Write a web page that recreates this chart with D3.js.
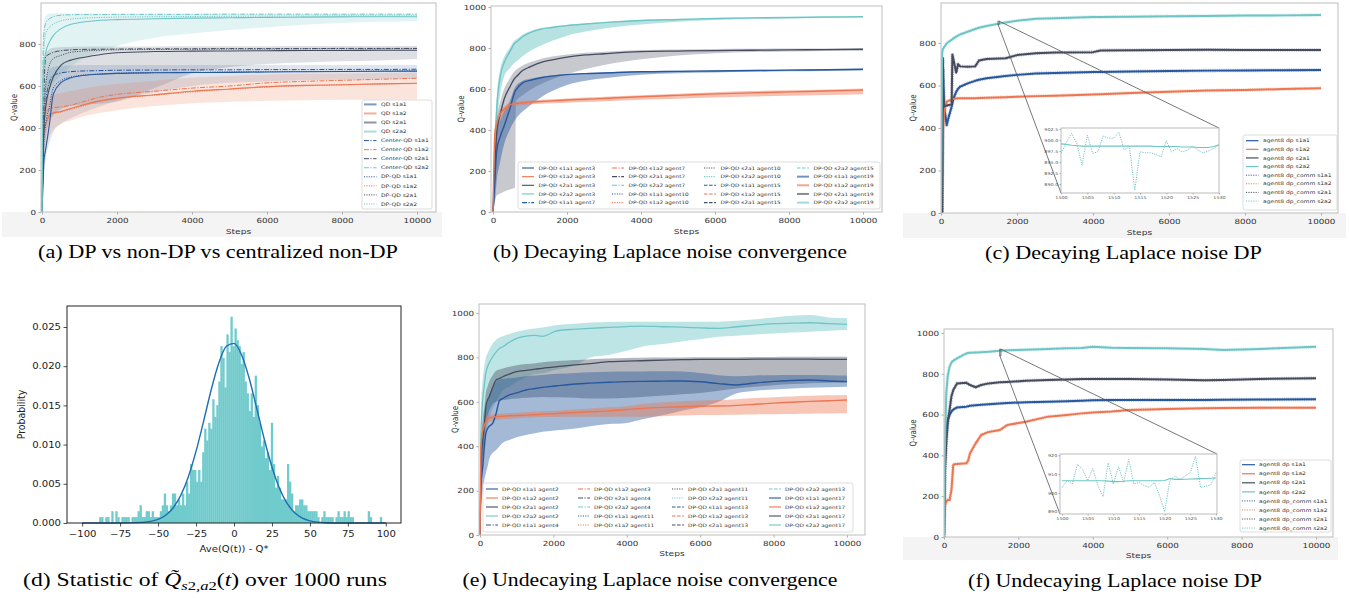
<!DOCTYPE html>
<html>
<head>
<meta charset="utf-8">
<script src="https://cdn.jsdelivr.net/npm/d3@7"></script>
<style>
  body { margin: 0; background: #fff; }
  svg { display: block; }
  .cap { font-family: "Liberation Serif", "Times New Roman", serif; font-size: 18.5px; fill: #000; }
</style>
</head>
<body>
<svg id="fig" width="1349" height="598"></svg>
<script>
// ---------------- data ----------------

// (a) DP vs non-DP vs centralized non-DP
const stepsA = [0, 25, 50, 100, 200, 300, 500, 750, 1000, 1500, 2000, 3000, 4000, 5000, 6000, 7000, 8000, 9000, 10000];
const qdA_s1a1 = [0, 120, 240, 300, 420, 560, 615, 638, 648, 656, 660, 663, 664, 665, 667, 668, 669, 670, 671];
const centerA_s1a1 = [0, 200, 380, 520, 620, 650, 662, 668, 671, 673, 675, 676, 677, 677, 678, 678, 679, 679, 680];
const dpA_s1a1 = [0, 160, 320, 420, 500, 590, 625, 642, 650, 657, 661, 664, 665, 667, 668, 669, 670, 671, 672];
const loA_s1a1 = [0, 60, 150, 250, 330, 380, 420, 445, 465, 500, 530, 570, 600, 615, 622, 627, 630, 632, 635];
const hiA_s1a1 = [0, 400, 560, 630, 680, 690, 695, 698, 700, 700, 700, 700, 700, 700, 700, 700, 700, 700, 700];
const qdA_s1a2 = [0, 300, 380, 420, 462, 472, 478, 492, 505, 528, 542, 558, 575, 586, 597, 603, 606, 610, 613];
const centerA_s1a2 = [0, 330, 420, 470, 493, 497, 500, 508, 520, 545, 560, 575, 590, 600, 615, 622, 627, 632, 637];
const dpA_s1a2 = [0, 280, 360, 410, 455, 468, 475, 488, 500, 525, 540, 556, 572, 584, 595, 601, 605, 609, 612];
const loA_s1a2 = [0, 120, 200, 290, 360, 390, 420, 435, 450, 470, 485, 505, 518, 525, 530, 532, 534, 535, 536];
const hiA_s1a2 = [0, 450, 520, 545, 555, 560, 565, 575, 585, 600, 610, 625, 640, 648, 655, 658, 660, 662, 664];
const qdA_s2a1 = [0, 250, 400, 500, 590, 643, 698, 722, 733, 748, 758, 764, 766, 767, 768, 769, 769, 770, 770];
const centerA_s2a1 = [0, 300, 550, 740, 752, 760, 768, 772, 774, 775, 776, 777, 777, 778, 778, 778, 779, 779, 779];
const dpA_s2a1 = [0, 260, 450, 600, 700, 730, 745, 760, 765, 770, 772, 774, 775, 776, 776, 777, 777, 777, 778];
const loA_s2a1 = [0, 150, 250, 350, 430, 460, 490, 505, 510, 515, 525, 590, 660, 690, 705, 712, 718, 722, 728];
const hiA_s2a1 = [0, 500, 650, 750, 775, 782, 785, 786, 787, 788, 788, 788, 789, 789, 789, 790, 790, 790, 790];
const qdA_s2a2 = [0, 600, 700, 760, 810, 840, 872, 893, 902, 912, 916, 920, 923, 925, 927, 928, 929, 930, 930];
const centerA_s2a2 = [0, 720, 850, 900, 920, 930, 937, 939, 940, 940, 941, 941, 941, 942, 942, 942, 942, 942, 942];
const dpA_s2a2 = [0, 650, 780, 850, 880, 895, 910, 918, 922, 926, 928, 930, 931, 932, 933, 933, 934, 934, 934];
const loA_s2a2 = [0, 300, 450, 530, 580, 610, 650, 690, 720, 760, 790, 830, 850, 867, 880, 892, 900, 906, 910];
const hiA_s2a2 = [0, 800, 900, 935, 945, 946, 946, 945, 945, 944, 944, 944, 944, 944, 944, 944, 944, 944, 944];
const legendA = ["QD s1a1", "QD s1a2", "QD s2a1", "QD s2a2",
  "Center-QD s1a1", "Center-QD s1a2", "Center-QD s2a1", "Center-QD s2a2",
  "DP-QD s1a1", "DP-QD s1a2", "DP-QD s2a1", "DP-QD s2a2"];

// (b) decaying Laplace noise convergence
const stepsB = [0, 50, 100, 200, 300, 450, 600, 620, 800, 1000, 1300, 1600, 2000, 2500, 3000, 4000, 5000, 6000, 7000, 8000, 9000, 10000];
const meanB_s1a1 = [0, 150, 300, 370, 420, 500, 590, 596, 630, 642, 655, 663, 670, 675, 678, 684, 686, 688, 690, 692, 694, 696];
const loB_s1a1 = [0, 50, 150, 250, 330, 400, 450, 455, 490, 520, 560, 590, 620, 640, 652, 670, 677, 681, 684, 686, 688, 690];
const hiB_s1a1 = [0, 250, 400, 450, 490, 540, 610, 615, 640, 650, 660, 667, 673, 678, 681, 687, 689, 691, 693, 695, 697, 699];
const meanB_s1a2 = [0, 384, 433, 480, 500, 522, 530, 530, 533, 536, 539, 542, 546, 550, 554, 562, 569, 576, 581, 586, 590, 595];
const loB_s1a2 = [0, 300, 390, 450, 480, 505, 518, 518, 522, 525, 528, 530, 533, 536, 540, 547, 553, 558, 563, 567, 571, 575];
const hiB_s1a2 = [0, 420, 460, 500, 515, 532, 538, 538, 541, 544, 547, 550, 554, 558, 562, 570, 577, 584, 590, 594, 598, 602];
const meanB_s2a1 = [0, 200, 385, 480, 550, 608, 655, 658, 690, 708, 730, 742, 755, 766, 772, 782, 785, 787, 789, 791, 792, 794];
const loB_s2a1 = [0, 50, 80, 90, 100, 110, 120, 540, 570, 595, 625, 648, 672, 697, 717, 745, 764, 775, 780, 783, 785, 787];
const hiB_s2a1 = [0, 300, 450, 540, 600, 650, 690, 693, 715, 730, 748, 758, 768, 777, 782, 790, 793, 795, 796, 797, 798, 799];
const meanB_s2a2 = [0, 300, 500, 665, 728, 780, 825, 827, 855, 875, 892, 900, 909, 917, 924, 934, 939, 944, 947, 949, 951, 953];
const loB_s2a2 = [0, 200, 400, 580, 660, 700, 730, 733, 760, 785, 812, 835, 860, 880, 895, 915, 928, 936, 941, 944, 946, 948];
const hiB_s2a2 = [0, 380, 560, 700, 755, 800, 840, 842, 865, 882, 897, 905, 913, 920, 927, 936, 941, 946, 949, 951, 953, 955];
const legendB = [
  "DP-QD s1a1 agent3", "DP-QD s1a2 agent3", "DP-QD s2a1 agent3", "DP-QD s2a2 agent3", "DP-QD s1a1 agent7",
  "DP-QD s1a2 agent7", "DP-QD s2a1 agent7", "DP-QD s2a2 agent7", "DP-QD s1a1 agent10", "DP-QD s1a2 agent10",
  "DP-QD s2a1 agent10", "DP-QD s2a2 agent10", "DP-QD s1a1 agent15", "DP-QD s1a2 agent15", "DP-QD s2a1 agent15",
  "DP-QD s2a2 agent15", "DP-QD s1a1 agent19", "DP-QD s1a2 agent19", "DP-QD s2a1 agent19", "DP-QD s2a2 agent19"];

// (c) decaying Laplace noise DP, agent8
const stepsC = [0, 30, 50, 60, 80, 100, 150, 200, 280, 300, 330, 400, 450, 500, 700, 900, 1000, 1200, 1700, 2000, 2500, 3000, 4000, 4200, 5000, 6000, 7000, 8000, 9000, 10000];
const dpC_s1a1 = [0, 0, 680, 600, 500, 480, 414, 450, 500, 517, 540, 570, 585, 594, 610, 622, 627, 634, 645, 650, 657, 659, 663, 664, 666, 668, 670, 671, 672, 673];
const dpC_s1a2 = [0, 250, 380, 420, 460, 490, 524, 528, 533, 535, 537, 539, 540, 540, 540, 540, 541, 542, 545, 547, 550, 552, 558, 559, 565, 571, 576, 579, 583, 587];
const dpC_s2a1 = [0, 0, 730, 600, 500, 505, 505, 508, 510, 745, 720, 660, 700, 690, 688, 690, 718, 725, 728, 743, 752, 755, 757, 765, 766, 767, 768, 767, 767, 767];
const dpC_s2a2 = [0, 760, 770, 775, 780, 785, 798, 805, 815, 818, 822, 830, 835, 840, 853, 866, 872, 880, 897, 905, 914, 917, 922, 922, 924, 926, 927, 929, 930, 932];
const insetSteps = [1500, 1501, 1502, 1503, 1504, 1505, 1506, 1507, 1508, 1509, 1510, 1511, 1512, 1513, 1514, 1515,
  1516, 1517, 1518, 1519, 1520, 1521, 1522, 1523, 1524, 1525, 1526, 1527, 1528, 1529, 1530];
const insetC_dp = [899.1, 899.0, 898.8, 898.7, 898.6, 898.6, 898.6, 898.6, 898.6, 898.6, 898.6, 898.6, 898.6, 898.6, 898.6, 898.6,
  898.6, 898.6, 898.5, 898.5, 898.5, 898.5, 898.5, 898.4, 898.4, 898.4, 898.3, 898.3, 898.3, 898.5, 898.9];
const insetC_comm = [897.0, 899.4, 901.5, 899.2, 894.3, 901.1, 897.0, 897.3, 900.9, 900.4, 900.4, 901.7, 897.7, 898.5, 888.6, 897.3,
  897.1, 897.1, 896.7, 896.2, 899.8, 897.3, 898.1, 897.3, 897.7, 898.6, 897.7, 897.1, 897.5, 898.1, 898.9];
const insetC_yTicks = [890, 892.5, 895, 897.5, 900, 902.5];
const legendDP = ["agent8 dp s1a1", "agent8 dp s1a2", "agent8 dp s2a1", "agent8 dp s2a2",
  "agent8 dp_comm s1a1", "agent8 dp_comm s1a2", "agent8 dp_comm s2a1", "agent8 dp_comm s2a2"];

// (d) histogram of Ave(Q(t)) - Q* over 1000 runs
const histRuns = 1000;
const histStart = -88.8;
const histWidth = 1.33;
const histCounts = [
  1, 1, 0, 1, 1, 0, 2, 0, 2, 1,   0, 1, 1, 1, 1, 0, 1, 1, 1, 2,
  3, 1, 1, 2, 2, 1, 2, 1, 1, 1,   2, 3, 5, 3, 2, 3, 5, 5, 3, 4,
  3, 5, 3, 7, 5, 10, 9, 9, 7, 9,  7, 12, 16, 14, 17, 16, 21, 18, 20, 24,
  30, 28, 23, 32, 29, 35, 30, 33, 31, 30,  27, 29, 24, 22, 19, 22, 18, 25, 20, 17,
  13, 14, 11, 12, 9, 17, 10, 6, 8, 6,  4, 4, 4, 10, 7, 5, 2, 3, 3, 4,
  4, 3, 3, 2, 2, 2, 2, 2, 1, 0,   1, 2, 1, 1, 1, 1, 0, 1, 2, 1,
  1, 2, 1, 2, 1, 1, 0, 0, 0, 0,   0, 0, 0, 2, 1, 0, 0, 0, 0, 1];
const gaussX = [-100, -90, -80, -70, -60, -55, -50, -45, -40, -35, -30, -25, -20, -15, -10, -5, 0,
  5, 10, 15, 20, 25, 30, 35, 40, 45, 50, 55, 60, 70, 80, 90, 100];
const gaussY = [0, 0, 0, 0.00001, 0.00008, 0.0002, 0.00046, 0.00099, 0.00195, 0.00355, 0.00594, 0.00916, 0.0130,
  0.0170, 0.0204, 0.02254, 0.02291, 0.02144, 0.01846, 0.0146, 0.01065, 0.00714, 0.0044, 0.0025, 0.0013,
  0.00063, 0.00028, 0.00011, 0.00004, 0, 0, 0, 0];
const histXTicks = [-100, -75, -50, -25, 0, 25, 50, 75, 100];
const histYTicks = [0, 0.005, 0.01, 0.015, 0.02, 0.025];

// (e) undecaying Laplace noise convergence
const stepsE = [0, 25, 75, 120, 160, 210, 250, 345, 440, 530, 620, 800, 1000, 1250, 1500, 1700, 2100, 2600, 3000, 3500,
  4000, 4400, 5000, 5500, 6000, 6500, 7000, 7500, 8000, 8500, 9000, 9500, 10000];
const meanE_s1a1 = [0, 218, 308, 400, 458, 480, 490, 503, 548, 605, 615, 631, 640, 653, 660, 665, 672, 680, 684, 688, 691, 692, 693, 694, 690, 682, 676, 685, 692, 696, 698, 694, 691];
const loE_s1a1 = [0, 100, 200, 250, 278, 310, 340, 370, 383, 400, 415, 428, 440, 450, 458, 465, 472, 480, 490, 500, 505, 520, 540, 560, 575, 600, 638, 650, 655, 660, 663, 666, 668];
const hiE_s1a1 = [0, 300, 400, 500, 560, 600, 630, 660, 690, 700, 704, 706, 710, 715, 718, 721, 726, 730, 733, 735, 736, 737, 738, 736, 730, 720, 715, 718, 720, 721, 721, 720, 718];
const meanE_s1a2 = [0, 398, 470, 495, 510, 525, 528, 530, 533, 534, 535, 537, 538, 540, 542, 544, 547, 552, 555, 559, 565, 570, 575, 578, 580, 581, 584, 589, 594, 598, 602, 605, 608];
const loE_s1a2 = [0, 370, 440, 470, 490, 505, 510, 515, 518, 520, 522, 524, 526, 528, 530, 531, 532, 533, 533, 533, 533, 533, 535, 538, 540, 541, 542, 543, 544, 545, 546, 547, 548];
const hiE_s1a2 = [0, 420, 500, 520, 530, 540, 542, 543, 545, 546, 547, 549, 551, 553, 555, 557, 560, 565, 570, 575, 580, 590, 598, 603, 606, 608, 612, 617, 621, 624, 627, 629, 631];
const meanE_s2a1 = [0, 300, 428, 500, 578, 610, 623, 665, 698, 705, 713, 725, 736, 742, 747, 751, 758, 766, 772, 781, 783, 785, 788, 790, 791, 791, 791, 792, 792, 792, 792, 791, 791];
const loE_s2a1 = [0, 200, 330, 420, 500, 540, 560, 590, 600, 605, 608, 612, 615, 618, 620, 622, 620, 618, 615, 615, 618, 622, 628, 634, 640, 650, 660, 668, 675, 680, 684, 686, 688];
const hiE_s2a1 = [0, 380, 520, 580, 640, 670, 690, 720, 740, 745, 750, 758, 765, 770, 774, 778, 784, 788, 792, 795, 797, 798, 799, 800, 801, 801, 801, 802, 802, 803, 803, 803, 803];
const meanE_s2a2 = [0, 450, 608, 680, 730, 760, 775, 803, 825, 840, 848, 868, 886, 896, 899, 895, 920, 927, 931, 935, 939, 941, 938, 936, 933, 931, 938, 945, 952, 954, 956, 952, 949];
const loE_s2a2 = [0, 250, 350, 420, 458, 500, 530, 570, 600, 630, 650, 668, 690, 710, 725, 728, 745, 765, 800, 811, 830, 848, 860, 872, 882, 893, 898, 903, 908, 912, 916, 920, 923];
const hiE_s2a2 = [0, 550, 700, 760, 800, 820, 835, 863, 880, 890, 895, 905, 915, 925, 930, 935, 946, 952, 957, 960, 961, 961, 961, 961, 961, 961, 965, 972, 980, 988, 991, 980, 976];
const legendE = [
  "DP-QD s1a1 agent2", "DP-QD s1a2 agent2", "DP-QD s2a1 agent2", "DP-QD s2a2 agent2", "DP-QD s1a1 agent4",
  "DP-QD s1a2 agent3", "DP-QD s2a1 agent4", "DP-QD s2a2 agent4", "DP-QD s1a1 agent11", "DP-QD s1a2 agent11",
  "DP-QD s2a1 agent11", "DP-QD s2a2 agent11", "DP-QD s1a1 agent13", "DP-QD s1a2 agent13", "DP-QD s2a1 agent13",
  "DP-QD s2a2 agent13", "DP-QD s1a1 agent17", "DP-QD s1a2 agent17", "DP-QD s2a1 agent17", "DP-QD s2a2 agent17"];

// (f) undecaying Laplace noise DP, agent8
const stepsF = [0, 20, 60, 100, 150, 200, 250, 350, 600, 650, 700, 850, 1000, 1200, 1500, 1700, 2200, 2800, 3300, 3700,
  4000, 4500, 5000, 6000, 7000, 7500, 8500, 10000];
const dpF_s1a1 = [0, 350, 508, 574, 598, 615, 625, 635, 639, 641, 643, 646, 648, 651, 655, 657, 660, 663, 666, 668, 670, 671, 672, 672, 672, 673, 674, 675];
const dpF_s1a2 = [0, 149, 175, 181, 181, 230, 355, 358, 361, 375, 410, 459, 500, 515, 524, 549, 565, 590, 598, 606, 610, 615, 623, 628, 631, 632, 633, 634];
const dpF_s2a1 = [0, 300, 459, 560, 623, 690, 721, 753, 756, 750, 745, 734, 745, 753, 758, 760, 766, 770, 772, 774, 775, 775, 775, 772, 768, 770, 775, 778];
const dpF_s2a2 = [0, 400, 700, 790, 835, 855, 865, 876, 900, 902, 903, 905, 906, 908, 913, 915, 918, 922, 925, 927, 933, 928, 926, 925, 922, 917, 922, 933];
const insetF_dp = [906.5, 906.5, 906.5, 906.5, 906.5, 906.5, 906.5, 906.5, 906.5, 906.3, 906.0, 906.0, 906.2, 906.5, 906.5, 906.5,
  906.5, 906.5, 906.5, 906.5, 906.6, 907.7, 907.2, 907.2, 907.3, 907.4, 907.5, 907.6, 907.7, 907.8, 907.9];
const insetF_comm = [903.0, 906.5, 904.7, 915.2, 912.6, 906.5, 912.9, 903.9, 898.1, 916.0, 904.7, 914.0, 905.6, 917.8, 904.7, 905.6,
  903.9, 903.0, 905.6, 898.6, 890.0, 906.5, 909.1, 907.2, 909.1, 910.8, 919.5, 903.0, 903.5, 904.4, 910.8];
const insetF_yTicks = [890, 900, 910, 920];

const stepTicks = [0, 2000, 4000, 6000, 8000, 10000];
const qTicks800 = [0, 200, 400, 600, 800];
const qTicks1000 = [0, 200, 400, 600, 800, 1000];

// ---------------- look ----------------
const FONT = "'DejaVu Sans', sans-serif";
const SX = 1.25;   // the figure is stretched horizontally
const COL = { s1a1: "#27579c", s1a2: "#ec7651", s2a1: "#454c60", s2a2: "#6fc5c6" };
const DASH = { dashdot: "5,1.5,1.2,1.5", dotted: "1.1,1.3", dashed: "3.5,1.6" };
const lineAxis = { fs: 7, tick: "#999", text: "#333", tickLen: 2.5, padX: 4, padY: 2.5, sx: SX };

const svg = d3.select("#fig");
const colorOf = lab => COL[lab.match(/s\da\d/)[0]];

function stext(g, x, y, str, o) {
  let tr = `translate(${x},${y}) scale(${o.sx || SX},1)`;
  if (o.rot) tr += ` rotate(${o.rot})`;
  return g.append("text")
    .attr("transform", tr)
    .attr("text-anchor", o.anchor || "start")
    .attr("dy", o.dy || null)
    .style("font-family", FONT)
    .style("font-size", o.fs + "px")
    .attr("fill", o.fill || "#333")
    .text(str);
}

function drawAxes(g, x, y, p, st) {
  const gx = g.append("g").attr("transform", `translate(0,${p.box[3]})`)
    .call(d3.axisBottom(x).tickValues(p.xTicks).tickSizeInner(st.tickLen).tickSizeOuter(0)
      .tickPadding(st.padX).tickFormat(p.xFmt || d3.format("d")));
  const gy = g.append("g").attr("transform", `translate(${p.box[0]},0)`)
    .call(d3.axisLeft(y).tickValues(p.yTicks).tickSizeInner(st.tickLen).tickSizeOuter(0)
      .tickPadding(st.padY).tickFormat(p.yFmt || d3.format("d")));
  for (const a of [gx, gy]) {
    a.attr("font-family", null).attr("font-size", null);
    a.select(".domain").remove();
    a.selectAll(".tick line").attr("stroke", st.tick).attr("stroke-width", 0.8);
    a.selectAll(".tick text").attr("fill", st.text)
      .style("font-family", FONT).style("font-size", st.fs + "px");
  }
  gx.selectAll(".tick text").attr("transform", `scale(${st.sx},1)`);
  gy.selectAll(".tick text").attr("x", -(st.tickLen + st.padY) / st.sx).attr("transform", `scale(${st.sx},1)`);
}

function drawLegend(g, L) {
  g.append("rect")
    .attr("x", L.box[0]).attr("y", L.box[1]).attr("width", L.box[2]).attr("height", L.box[3])
    .attr("rx", 2).attr("fill", "#fff").attr("fill-opacity", 0.85)
    .attr("stroke", "#d4d4d4").attr("stroke-width", 0.8);
  L.labels.forEach((lab, i) => {
    const col = Math.floor(i / L.rows), row = i % L.rows;
    const lx = L.colX[col], ly = L.rowY + row * L.rowDy;
    const s = L.style(lab);
    g.append("line")
      .attr("x1", lx).attr("x2", lx + L.lineLen).attr("y1", ly).attr("y2", ly)
      .attr("stroke", s.c).attr("stroke-width", s.w)
      .attr("stroke-opacity", s.op == null ? 1 : s.op)
      .attr("stroke-dasharray", s.dash || null);
    stext(g, lx + L.textDx, ly, lab, { fs: L.fs, dy: "0.35em" });
  });
}

function drawLinePanel(p) {
  const g = svg.append("g").attr("class", "panel-" + p.id);
  const [bx0, by0, bx1, by1] = p.box;
  if (p.strip) {
    g.append("rect").attr("x", p.strip[0]).attr("y", p.strip[1])
      .attr("width", p.strip[2]).attr("height", p.strip[3]).attr("fill", "#f4f4f4");
  }
  g.append("rect").attr("x", bx0).attr("y", by0).attr("width", bx1 - bx0).attr("height", by1 - by0).attr("fill", "#fff");

  const x = d3.scaleLinear().domain([0, 10000]).range(p.xr);
  const y = d3.scaleLinear().domain(p.yDom).range(p.yr);

  g.append("clipPath").attr("id", "clip-" + p.id)
    .append("rect").attr("x", bx0).attr("y", by0).attr("width", bx1 - bx0).attr("height", by1 - by0);
  const plot = g.append("g").attr("clip-path", `url(#clip-${p.id})`);

  (p.bands || []).forEach(b => {
    const area = d3.area()
      .x((d, i) => x(p.steps[i]))
      .y0((d, i) => y(b.lo[i]))
      .y1((d, i) => y(b.hi[i]))
      .curve(p.curve);
    plot.append("path").datum(b.lo).attr("d", area).attr("fill", b.c).attr("fill-opacity", b.op);
  });

  const line = d3.line().x((d, i) => x(p.steps[i])).y(d => y(d)).curve(p.curve);
  p.lines.forEach(s => {
    plot.append("path").datum(s.v).attr("d", line)
      .attr("fill", "none").attr("stroke", s.c).attr("stroke-width", s.w)
      .attr("stroke-opacity", s.op == null ? 1 : s.op)
      .attr("stroke-dasharray", s.dash || null)
      .attr("stroke-linejoin", "round");
  });

  drawAxes(g, x, y, p, lineAxis);
  g.append("rect").attr("x", bx0).attr("y", by0).attr("width", bx1 - bx0).attr("height", by1 - by0)
    .attr("fill", "none").attr("stroke", "#bdbdbd").attr("stroke-width", 1);

  stext(g, (bx0 + bx1) / 2, p.xLabelY, "Steps", { fs: 7.3, anchor: "middle" });
  stext(g, p.yLabelX, (by0 + by1) / 2, "Q-value", { fs: 7, anchor: "middle", rot: -90 });

  return { g, x, y };
}

function drawInset(main, q) {
  const g = main.g;
  const [ix0, iy0, ix1, iy1] = q.box;
  const xi = d3.scaleLinear().domain([1500, 1530]).range(q.xr);
  const yi = d3.scaleLinear().domain(q.yDom).range([iy1, iy0]);

  // zoom marker and connectors
  const mx0 = main.x(1500), mx1 = main.x(1530), myTop = main.y(q.yDom[1]), myBot = main.y(q.yDom[0]);
  g.append("rect").attr("x", mx0).attr("y", myTop).attr("width", mx1 - mx0).attr("height", myBot - myTop)
    .attr("fill", "none").attr("stroke", "#555").attr("stroke-width", 0.8);
  g.append("line").attr("x1", mx0).attr("y1", myBot).attr("x2", ix0).attr("y2", iy1)
    .attr("stroke", "#555").attr("stroke-width", 0.8);
  g.append("line").attr("x1", mx1).attr("y1", myTop).attr("x2", ix1).attr("y2", iy0)
    .attr("stroke", "#555").attr("stroke-width", 0.8);

  g.append("rect").attr("x", ix0).attr("y", iy0).attr("width", ix1 - ix0).attr("height", iy1 - iy0).attr("fill", "#fff");
  g.append("clipPath").attr("id", "clip-in-" + q.id)
    .append("rect").attr("x", ix0).attr("y", iy0).attr("width", ix1 - ix0).attr("height", iy1 - iy0);
  const plot = g.append("g").attr("clip-path", `url(#clip-in-${q.id})`);
  const line = d3.line().x((d, i) => xi(insetSteps[i])).y(d => yi(d));
  plot.append("path").datum(q.comm).attr("d", line).attr("fill", "none")
    .attr("stroke", COL.s2a2).attr("stroke-width", 1).attr("stroke-dasharray", "1.2,1.2");
  plot.append("path").datum(q.dp).attr("d", line).attr("fill", "none")
    .attr("stroke", COL.s2a2).attr("stroke-width", 1.1);

  drawAxes(g, xi, yi, { box: q.box, xTicks: [1500, 1505, 1510, 1515, 1520, 1525, 1530], yTicks: q.yTicks, yFmt: q.yFmt },
    { fs: 3.9, tick: "#999", text: "#555", tickLen: 1.5, padX: 1.5, padY: 1.2, sx: SX });
  g.append("rect").attr("x", ix0).attr("y", iy0).attr("width", ix1 - ix0).attr("height", iy1 - iy0)
    .attr("fill", "none").attr("stroke", "#aaa").attr("stroke-width", 0.8);
}

function caption(cx, y, target, build) {
  const t = svg.append("text").attr("class", "cap").attr("text-anchor", "middle");
  build(t);
  const w = t.node().getComputedTextLength();
  t.attr("transform", `translate(${cx},${y}) scale(${target / w},1)`);
}

// ---------------- (a) ----------------
const pa = drawLinePanel({
  id: "a", box: [41, 3, 436, 212], xr: [42, 417], yDom: [0, 800], yr: [212, 44],
  steps: stepsA, curve: d3.curveMonotoneX, xTicks: stepTicks, yTicks: qTicks800,
  strip: [2, 212, 440, 25], xLabelY: 233.5, yLabelX: 17,
  bands: [
    { lo: loA_s2a2, hi: hiA_s2a2, c: COL.s2a2, op: 0.2 },
    { lo: loA_s2a1, hi: hiA_s2a1, c: COL.s2a1, op: 0.18 },
    { lo: loA_s1a1, hi: hiA_s1a1, c: COL.s1a1, op: 0.15 },
    { lo: loA_s1a2, hi: hiA_s1a2, c: COL.s1a2, op: 0.2 }
  ],
  lines: [
    { v: qdA_s1a2, c: COL.s1a2, w: 1.1 }, { v: centerA_s1a2, c: COL.s1a2, w: 1, dash: DASH.dashdot }, { v: dpA_s1a2, c: COL.s1a2, w: 1, dash: DASH.dotted },
    { v: qdA_s1a1, c: COL.s1a1, w: 1.1 }, { v: centerA_s1a1, c: COL.s1a1, w: 1, dash: DASH.dashdot }, { v: dpA_s1a1, c: COL.s1a1, w: 1, dash: DASH.dotted },
    { v: qdA_s2a1, c: COL.s2a1, w: 1.1 }, { v: centerA_s2a1, c: COL.s2a1, w: 1, dash: DASH.dashdot }, { v: dpA_s2a1, c: COL.s2a1, w: 1, dash: DASH.dotted },
    { v: qdA_s2a2, c: COL.s2a2, w: 1.1 }, { v: centerA_s2a2, c: COL.s2a2, w: 1, dash: DASH.dashdot }, { v: dpA_s2a2, c: COL.s2a2, w: 1, dash: DASH.dotted }
  ]
});
drawLegend(pa.g, {
  box: [362, 100, 70, 109], colX: [364], rows: 12, rowY: 104.4, rowDy: 9.05, lineLen: 12.5, textDx: 17, fs: 4.8,
  labels: legendA,
  style: lab => lab.startsWith("QD") ? { c: colorOf(lab), w: 2, op: 0.6 }
    : lab.startsWith("Center") ? { c: colorOf(lab), w: 1, dash: DASH.dashdot }
    : { c: colorOf(lab), w: 1, dash: DASH.dotted }
});

// ---------------- (b) ----------------
const agentStyleB = { agent3: {}, agent7: { dash: DASH.dashdot }, agent10: { dash: DASH.dotted }, agent15: { dash: DASH.dashed }, agent19: { w: 2, op: 0.65 } };
const pb = drawLinePanel({
  id: "b", box: [491, 6, 882, 212], xr: [493, 863], yDom: [0, 1000], yr: [212, 7],
  steps: stepsB, curve: d3.curveMonotoneX, xTicks: stepTicks, yTicks: qTicks1000,
  xLabelY: 233.5, yLabelX: 464,
  bands: [
    { lo: loB_s2a1, hi: hiB_s2a1, c: COL.s2a1, op: 0.3 },
    { lo: loB_s2a2, hi: hiB_s2a2, c: COL.s2a2, op: 0.5 },
    { lo: loB_s1a1, hi: hiB_s1a1, c: COL.s1a1, op: 0.45 },
    { lo: loB_s1a2, hi: hiB_s1a2, c: COL.s1a2, op: 0.45 }
  ],
  lines: [
    { v: meanB_s2a2, c: COL.s2a2, w: 1.4 },
    { v: meanB_s2a1, c: COL.s2a1, w: 1.3 },
    { v: meanB_s1a1, c: COL.s1a1, w: 1.4 },
    { v: meanB_s1a2, c: COL.s1a2, w: 1.4 }
  ]
});
drawLegend(pb.g, {
  box: [518, 162, 362, 47], colX: [522, 612, 704, 797], rows: 5, rowY: 168, rowDy: 8.65, lineLen: 12, textDx: 16.5, fs: 4.6,
  labels: legendB,
  style: lab => Object.assign({ c: colorOf(lab), w: 1.1 }, agentStyleB[lab.split(" ").pop()])
});

// ---------------- (c) ----------------
// dp_comm curves are the noisy copies; drawn as a wide faint dotted stroke under the dp line
const dpLines = (vals) => [
  { v: vals[0], c: COL.s1a1, w: 3.6, op: 0.4, dash: "1,0.8" },
  { v: vals[1], c: COL.s1a2, w: 3.6, op: 0.4, dash: "1,0.8" },
  { v: vals[2], c: COL.s2a1, w: 3.6, op: 0.4, dash: "1,0.8" },
  { v: vals[3], c: COL.s2a2, w: 3.6, op: 0.4, dash: "1,0.8" },
  { v: vals[0], c: COL.s1a1, w: 2 },
  { v: vals[1], c: COL.s1a2, w: 2 },
  { v: vals[2], c: COL.s2a1, w: 2 },
  { v: vals[3], c: COL.s2a2, w: 2 }
];
const dpLegendStyle = lab => lab.includes("dp_comm") ? { c: colorOf(lab), w: 1, dash: DASH.dotted } : { c: colorOf(lab), w: 1.2 };

const pc = drawLinePanel({
  id: "c", box: [941, 3, 1338, 213], xr: [941, 1321], yDom: [0, 800], yr: [213, 43],
  steps: stepsC, curve: d3.curveLinear, xTicks: stepTicks, yTicks: qTicks800,
  strip: [903, 213, 443, 25], xLabelY: 234.5, yLabelX: 916,
  lines: dpLines([dpC_s1a1, dpC_s1a2, dpC_s2a1, dpC_s2a2])
});
drawInset(pc, { id: "c", box: [1061, 128, 1219, 193], xr: [1061, 1219], yDom: [888, 902.7],
  comm: insetC_comm, dp: insetC_dp, yTicks: insetC_yTicks, yFmt: d3.format(".1f") });
drawLegend(pc.g, {
  box: [1243, 135, 94, 75], colX: [1246], rows: 8, rowY: 140.7, rowDy: 8.62, lineLen: 12.5, textDx: 17, fs: 4.8,
  labels: legendDP, style: dpLegendStyle
});

// ---------------- (d) ----------------
(function drawHist() {
  const g = svg.append("g").attr("class", "panel-d");
  const box = [67, 306, 401, 523];
  const x = d3.scaleLinear().domain([-110, 110]).range([box[0], box[2]]);
  const y = d3.scaleLinear().domain([0, 0.025]).range([523, 327]);
  const dens = c => c / (histRuns * histWidth);

  g.append("g").selectAll("rect").data(histCounts).join("rect")
    .attr("x", (d, i) => x(histStart + i * histWidth))
    .attr("width", x(histStart + histWidth) - x(histStart) + 0.3)
    .attr("y", d => y(dens(d)))
    .attr("height", d => y(0) - y(dens(d)))
    .attr("fill", "#70cbcc");

  g.append("path").datum(gaussY)
    .attr("d", d3.line().x((d, i) => x(gaussX[i])).y(d => y(d)).curve(d3.curveMonotoneX))
    .attr("fill", "none").attr("stroke", "#1f6db2").attr("stroke-width", 1.4);

  drawAxes(g, x, y, { box, xTicks: histXTicks, yTicks: histYTicks, xFmt: d3.format("d"), yFmt: d3.format(".3f") },
    { fs: 8.2, tick: "#222", text: "#222", tickLen: 3.5, padX: 5, padY: 2.5, sx: 1.23 });
  g.append("rect").attr("x", box[0]).attr("y", box[1]).attr("width", box[2] - box[0]).attr("height", box[3] - box[1])
    .attr("fill", "none").attr("stroke", "#222").attr("stroke-width", 1);
  stext(g, 234, 551.5, "Ave(Q(t)) - Q*", { fs: 8.2, anchor: "middle", fill: "#222", sx: 1.23 });
  stext(g, 25, 414.5, "Probability", { fs: 9.4, anchor: "middle", fill: "#222", rot: -90, sx: 1.1 });
})();

// ---------------- (e) ----------------
const agentStyleE = { agent2: {}, agent3: { dash: DASH.dashdot }, agent4: { dash: DASH.dashdot }, agent11: { dash: DASH.dotted }, agent13: { dash: DASH.dashed }, agent17: {} };
const pe = drawLinePanel({
  id: "e", box: [479, 304, 865, 535], xr: [480, 847], yDom: [0, 1000], yr: [535, 313],
  steps: stepsE, curve: d3.curveMonotoneX, xTicks: stepTicks, yTicks: qTicks1000,
  xLabelY: 555.5, yLabelX: 458,
  bands: [
    { lo: loE_s2a2, hi: hiE_s2a2, c: COL.s2a2, op: 0.45 },
    { lo: loE_s2a1, hi: hiE_s2a1, c: COL.s2a1, op: 0.4 },
    { lo: loE_s1a1, hi: hiE_s1a1, c: COL.s1a1, op: 0.42 },
    { lo: loE_s1a2, hi: hiE_s1a2, c: COL.s1a2, op: 0.42 }
  ],
  lines: [
    { v: meanE_s2a2, c: COL.s2a2, w: 1.3 },
    { v: meanE_s2a1, c: COL.s2a1, w: 1.3 },
    { v: meanE_s1a1, c: COL.s1a1, w: 1.4 },
    { v: meanE_s1a2, c: COL.s1a2, w: 1.4 }
  ]
});
drawLegend(pe.g, {
  box: [483, 483, 370, 49], colX: [486, 578, 672, 769], rows: 5, rowY: 489, rowDy: 9, lineLen: 12, textDx: 16, fs: 4.6,
  labels: legendE,
  style: lab => Object.assign({ c: colorOf(lab), w: 1.1 }, agentStyleE[lab.split(" ").pop()])
});

// ---------------- (f) ----------------
const pf = drawLinePanel({
  id: "f", box: [944, 329, 1333, 537], xr: [944, 1316], yDom: [0, 1000], yr: [537, 333],
  steps: stepsF, curve: d3.curveLinear, xTicks: stepTicks, yTicks: qTicks1000,
  strip: [903, 537, 435, 23], xLabelY: 558, yLabelX: 916,
  lines: dpLines([dpF_s1a1, dpF_s1a2, dpF_s2a1, dpF_s2a2])
});
drawInset(pf, { id: "f", box: [1060, 454, 1217, 514], xr: [1062, 1216], yDom: [888.8, 920.7],
  comm: insetF_comm, dp: insetF_dp, yTicks: insetF_yTicks, yFmt: d3.format("d") });
drawLegend(pf.g, {
  box: [1240, 460, 91, 72], colX: [1242], rows: 8, rowY: 464.7, rowDy: 9.05, lineLen: 13, textDx: 17, fs: 4.8,
  labels: legendDP, style: dpLegendStyle
});

// ---------------- captions ----------------
caption(218, 258, 360, t => t.text("(a) DP vs non-DP vs centralized non-DP"));
caption(670, 258, 354, t => t.text("(b) Decaying Laplace noise convergence"));
caption(1123.5, 259, 277, t => t.text("(c) Decaying Laplace noise DP"));
caption(205, 586, 364, t => {
  t.append("tspan").text("(d) Statistic of ");
  t.append("tspan").attr("font-style", "italic").text("Q\u0303");
  t.append("tspan").attr("font-style", "italic").attr("font-size", "13px").attr("dy", 4).text("s");
  t.append("tspan").attr("font-size", "13px").text("2");
  t.append("tspan").attr("font-style", "italic").attr("font-size", "13px").text(",a");
  t.append("tspan").attr("font-size", "13px").text("2");
  t.append("tspan").attr("dy", -4).text("(");
  t.append("tspan").attr("font-style", "italic").text("t");
  t.append("tspan").text(") over 1000 runs");
});
caption(650, 586, 375, t => t.text("(e) Undecaying Laplace noise convergence"));
caption(1115, 587, 294, t => t.text("(f) Undecaying Laplace noise DP"));
</script>
</body>
</html>
